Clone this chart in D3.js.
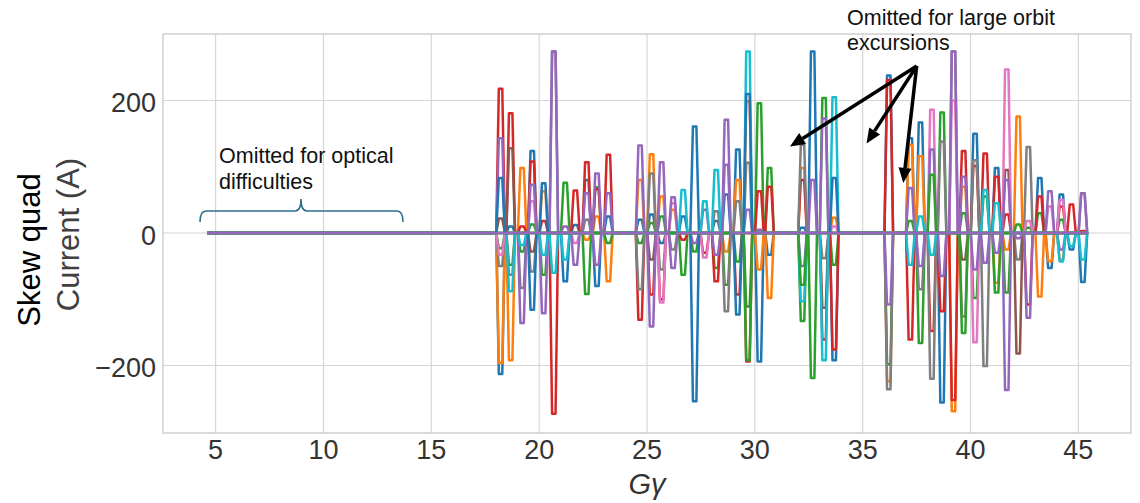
<!DOCTYPE html>
<html>
<head>
<meta charset="utf-8">
<script src="https://cdn.jsdelivr.net/npm/d3@7"></script>
<style>
  html, body { margin: 0; padding: 0; background: #fff; }
  svg { display: block; font-family: "Liberation Sans", Arial, sans-serif; }
</style>
</head>
<body>
<svg id="chart" width="1140" height="503"></svg>
<script>
// ---- data ----
const resonances = [18.21,18.68,19.21,19.68,20.21,20.68,21.21,21.68,22.21,22.68,23.21,
  24.68,25.21,25.68,26.21,26.68,27.21,27.68,28.21,28.68,29.21,29.68,30.21,30.68,
  32.21,32.68,33.21,33.68,
  36.21,37.21,37.68,38.21,38.68,39.21,39.68,40.21,40.68,41.21,41.68,42.21,42.68,43.21,43.68,44.21,44.68,45.21];
const ggRange = [4.6, 45.45];
const xTicks = [5,10,15,20,25,30,35,40,45];
const yTicks = [-200,0,200];

const blue   = [-213,10,0,124,0,0,-73,12,80,-80,25, 20,28,-15,0,25,161,0,18,58,126,0,-194,-33, 8,274,0,-192, 238,143,167,0,-256,0,0,150,0,98,0,0,0,83,-53,58,-25,-74];
const orange = [-196,-192,98,0,63,0,0,0,-10,25,-73, 80,119,55,35,0,0,0,0,-28,80,199,-55,-98, 98,0,0,23, -224,133,116,0,0,-269,70,0,0,-75,-25,176,0,-96,-43,-40,0,0];
const green  = [-23,-48,-28,13,-63,0,76,0,-92,69,-15, -15,15,25,0,-63,-28,0,-53,-78,-43,-111,196,98, -133,-219,204,-48, -198,18,-166,0,182,0,30,-98,55,-90,-90,13,8,30,0,20,0,0];
const red    = [218,181,10,108,18,-273,0,64,107,66,118, -131,-93,-100,0,-10,0,-30,-73,0,-93,-194,63,70, 80,0,-161,-176, 231,-161,0,-148,-118,-252,124,101,120,85,28,0,-108,55,0,40,43,3];
const purple = [143,0,-136,73,-121,274,10,-48,60,90,60, 132,-141,107,54,0,-15,35,-33,171,0,35,5,0, -50,80,173,0, -108,68,-50,126,-65,274,85,-55,-45,-30,-237,-8,-128,0,63,-25,0,60];
const brown  = [22,128,0,-28,0,0,0,0,0,0,0, 0,-40,0,0,0,0,0,0,0,0,0,0,0, 0,0,-113,0, 0,0,0,0,0,0,-40,0,0,0,95,-182,0,0,0,0,0,0];
const pink   = [-33,0,0,48,0,0,0,-15,0,0,0, 0,0,-105,45,0,0,-37,0,0,0,0,0,0, 0,0,0,10, 0,0,0,186,0,200,0,-165,0,0,247,0,18,0,40,50,0,0];
const gray   = [-50,-63,-83,-58,0,274,0,0,20,0,0, -85,90,-55,-25,0,0,0,33,-118,48,106,0,0, 133,0,-38,0, -236,0,-85,-220,138,274,-126,110,-201,0,0,-40,130,0,0,0,0,60];
const olive  = [0,0,0,0,0,0,0,0,0,0,0, 0,0,0,0,0,0,0,0,0,0,0,0,0, 0,0,0,0, 0,0,0,0,0,0,0,0,0,0,0,0,0,0,0,0,0,0];
const cyan   = [0,-88,-18,0,-33,-60,-40,0,0,0,0, 0,0,0,0,65,0,48,95,0,0,274,0,0, -103,0,-192,205, 0,-48,25,-33,0,0,0,0,65,45,0,0,0,0,0,-43,-20,-40];
const blue2  = [83,0,0,-116,75,0,0,0,0,0,0, 0,0,0,0,0,-254,0,0,0,-123,210,0,0, 0,0,0,83, 0,0,0,0,0,0,0,0,0,0,0,0,0,0,0,0,0,0];
const green2 = [0,0,0,0,0,0,0,0,0,0,0, 0,0,0,0,0,0,0,0,0,0,-192,0,0, -78,0,0,0, 0,0,0,88,0,0,-151,0,0,0,0,0,0,0,0,0,0,0];
const purple2= [0,0,0,0,0,0,0,0,0,-48,0, 0,0,0,-53,0,0,0,0,103,0,0,0,0, 0,0,0,0, 0,0,0,0,0,0,0,0,0,0,80,0,0,0,0,0,0,0];

const seriesList = [blue, orange, green, red, gray, brown, pink, purple, olive, cyan, blue2, green2, purple2];
const seriesColors = ["#1f77b4","#ff7f0e","#2ca02c","#d62728","#7f7f7f","#8c564b","#e377c2","#9467bd","#bcbd22","#17becf","#1f77b4","#2ca02c","#9467bd"];

// ---- layout ----
const svg = d3.select("#chart");
const L = 163, R = 1131, T = 34, B = 433;
const x = d3.scaleLinear().domain([2.56, 47.44]).range([L, R]);
const y = d3.scaleLinear().domain([-302, 300.5]).range([B, T]);
const gridColor = "#d4d4d4";
const textColor = "#333";

// grid
const g = svg.append("g");
g.selectAll("line.xg").data(xTicks).enter().append("line")
  .attr("x1", d => x(d)).attr("x2", d => x(d)).attr("y1", T).attr("y2", B)
  .attr("stroke", gridColor).attr("stroke-width", 1.1);
g.selectAll("line.yg").data(yTicks).enter().append("line")
  .attr("x1", L).attr("x2", R).attr("y1", d => y(d)).attr("y2", d => y(d))
  .attr("stroke", gridColor).attr("stroke-width", 1.1);

// tick labels
g.selectAll("text.xt").data(xTicks).enter().append("text")
  .attr("x", d => x(d)).attr("y", 459.3).attr("text-anchor", "middle")
  .attr("font-size", 27).attr("fill", textColor).text(d => d);
g.selectAll("text.yt").data(yTicks).enter().append("text")
  .attr("x", 156).attr("y", d => y(d) + 11.8).attr("text-anchor", "end")
  .attr("font-size", 27).attr("fill", textColor).text(d => d < 0 ? "\u2212" + Math.abs(d) : d);

// series
const line = d3.line().x(d => x(d[0])).y(d => y(d[1]));
const halfTop = 0.08, halfBase = 0.2;
seriesList.forEach((vals, si) => {
  const pts = [[ggRange[0], 0]];
  resonances.forEach((c, i) => {
    const v = vals[i];
    pts.push([c - halfBase, 0], [c - halfTop, v], [c + halfTop, v], [c + halfBase, 0]);
  });
  pts.push([ggRange[1], 0]);
  svg.append("path").attr("d", line(pts)).attr("fill", "none")
    .attr("stroke", seriesColors[si]).attr("stroke-width", 2.5)
    .attr("stroke-linejoin", "round");
});

// frame
svg.append("rect").attr("x", L).attr("y", T).attr("width", R - L).attr("height", B - T)
  .attr("fill", "none").attr("stroke", "#cfcfcf").attr("stroke-width", 1.5);

// axis labels
svg.append("text").attr("transform", "translate(40,250) rotate(-90)")
  .attr("text-anchor", "middle").attr("font-size", 31).attr("fill", "#000").text("Skew quad");
svg.append("text").attr("transform", "translate(78.5,234.5) rotate(-90)")
  .attr("text-anchor", "middle").attr("font-size", 31).attr("fill", "#404040").text("Current (A)");
svg.append("text").attr("x", x(25)).attr("y", 494).attr("text-anchor", "middle")
  .attr("font-size", 29).attr("font-style", "italic").attr("fill", textColor).text("G\u03b3");

// annotation 1: optical difficulties
const a1 = svg.append("text").attr("font-size", 21.5).attr("fill", "#111");
a1.append("tspan").attr("x", 219).attr("y", 163).text("Omitted for optical");
a1.append("tspan").attr("x", 219).attr("y", 189).text("difficulties");
svg.append("path")
  .attr("d", "M200,222 Q200,211 206,211 L295,211 Q301,211 301,199 Q301,211 307,211 L397,211 Q403,211 403,222")
  .attr("fill", "none").attr("stroke", "#2f6f8c").attr("stroke-width", 1.6);

// annotation 2: large orbit excursions
const a2 = svg.append("text").attr("font-size", 21.5).attr("fill", "#111");
a2.append("tspan").attr("x", 847).attr("y", 25).text("Omitted for large orbit");
a2.append("tspan").attr("x", 847).attr("y", 50).text("excursions");

const origin = [916.7, 66];
const tips = [[790, 146.5], [866.5, 143.5], [903.3, 183]];
tips.forEach(t => {
  const dx = t[0] - origin[0], dy = t[1] - origin[1];
  const len = Math.hypot(dx, dy), ux = dx / len, uy = dy / len;
  const hl = 15, hw = 6.5;
  const bx = t[0] - ux * hl, by = t[1] - uy * hl;
  svg.append("line").attr("x1", origin[0]).attr("y1", origin[1]).attr("x2", bx).attr("y2", by)
    .attr("stroke", "#000").attr("stroke-width", 3.5);
  svg.append("polygon")
    .attr("points", [[t[0], t[1]], [bx - uy * hw, by + ux * hw], [bx + uy * hw, by - ux * hw]].map(p => p.join(",")).join(" "))
    .attr("fill", "#000");
});
</script>
</body>
</html>
